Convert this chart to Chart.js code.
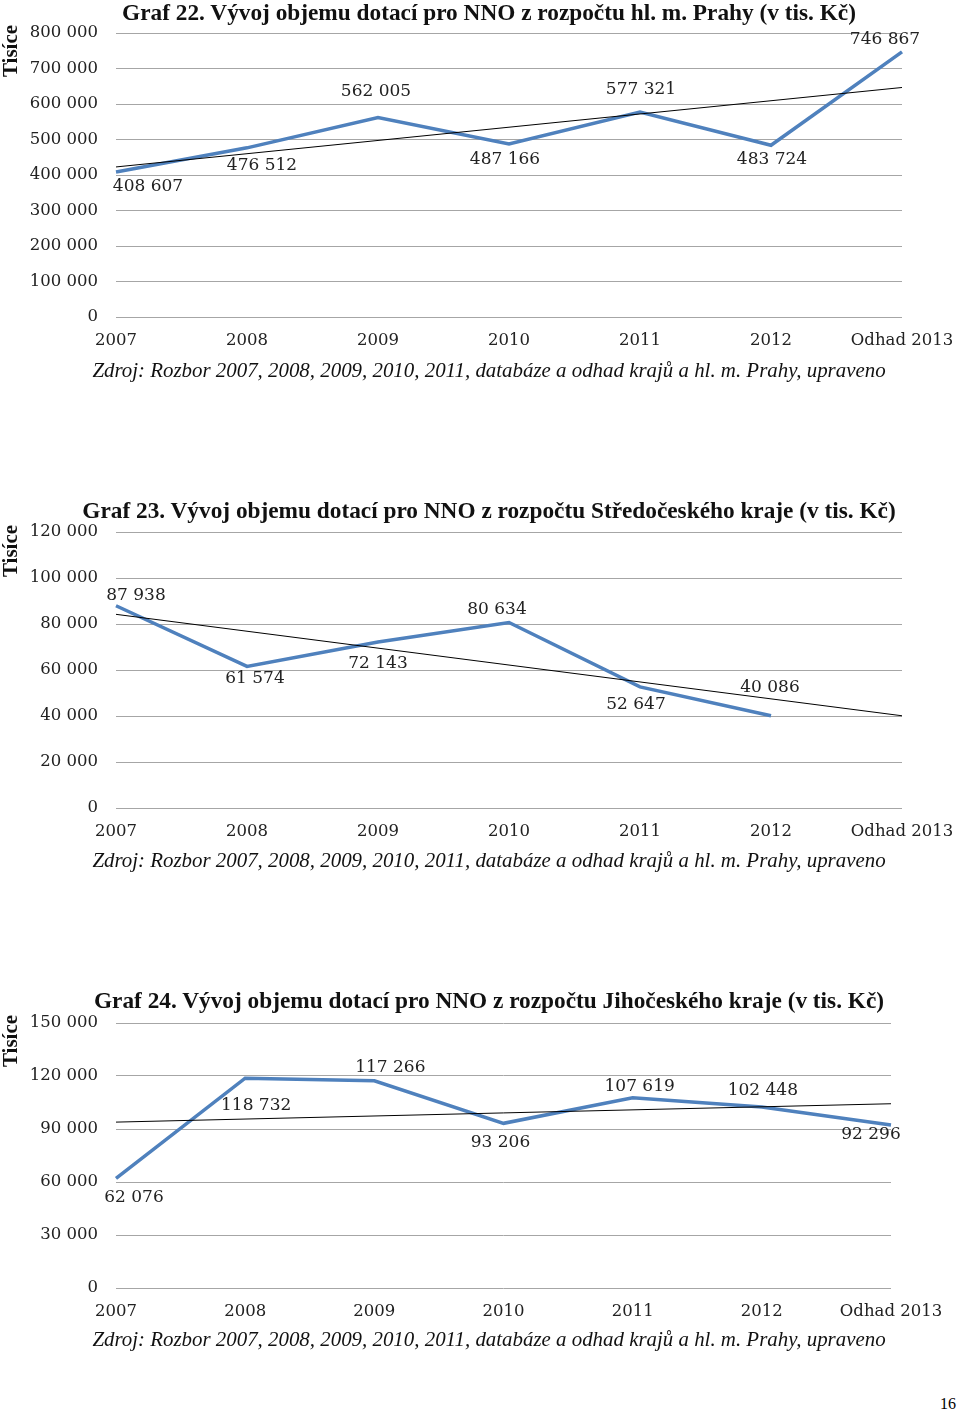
<!DOCTYPE html>
<html>
<head>
<meta charset="utf-8">
<script src="https://cdn.jsdelivr.net/npm/chart.js@4.4.0/dist/chart.umd.min.js"></script>
<style>
  body { margin: 0; background: #fff; width: 960px; height: 1412px; position: relative; overflow: hidden; }
  .box { position: absolute; left: 0; width: 960px; height: 360px; }
  .title { position: absolute; left: 489px; transform: translate(-50%, -50%); white-space: nowrap;
           font: bold 23.3px "Liberation Serif", serif; color: #111; }
  .source { position: absolute; left: 489px; transform: translate(-50%, -50%); white-space: nowrap;
            font: italic 20.9px "Liberation Serif", serif; color: #111; }
  .page { position: absolute; right: 4px; top: 1395px; font: 16px "Liberation Serif", serif; }
</style>
</head>
<body>

<div class="box" style="top:0"><canvas id="praha"></canvas></div>
<div class="box" style="top:490px"><canvas id="stredocesky"></canvas></div>
<div class="box" style="top:980px"><canvas id="jihocesky"></canvas></div>

<div class="title" style="top:12px">Graf 22. Vývoj objemu dotací pro NNO z rozpočtu hl. m. Prahy (v tis. Kč)</div>
<div class="title" style="top:510px">Graf 23. Vývoj objemu dotací pro NNO z rozpočtu Středočeského kraje (v tis. Kč)</div>
<div class="title" style="top:1000px">Graf 24. Vývoj objemu dotací pro NNO z rozpočtu Jihočeského kraje (v tis. Kč)</div>

<div class="source" style="top:370px">Zdroj: Rozbor 2007, 2008, 2009, 2010, 2011, databáze a odhad krajů a hl. m. Prahy, upraveno</div>
<div class="source" style="top:860px">Zdroj: Rozbor 2007, 2008, 2009, 2010, 2011, databáze a odhad krajů a hl. m. Prahy, upraveno</div>
<div class="source" style="top:1339px">Zdroj: Rozbor 2007, 2008, 2009, 2010, 2011, databáze a odhad krajů a hl. m. Prahy, upraveno</div>

<div class="page">16</div>

<script>
// categories (same for all three charts)
const years = ['2007', '2008', '2009', '2010', '2011', '2012', 'Odhad 2013'];

// Graf 22 - hl. m. Praha
const prahaValues = [408607, 476512, 562005, 487166, 577321, 483724, 746867];
const prahaTrend = [422700, null, null, null, null, null, 646500];

// Graf 23 - Středočeský kraj (no estimate for 2013)
const stredValues = [87938, 61574, 72143, 80634, 52647, 40086, null];
const stredTrend = [84200, null, null, null, null, null, 40100];

// Graf 24 - Jihočeský kraj
const jihValues = [62076, 118732, 117266, 93206, 107619, 102448, 92296];
const jihTrend = [93900, null, null, null, null, null, 104300];

// y axis ranges
const prahaAxis = [0, 800000, 100000];
const stredAxis = [0, 120000, 20000];
const jihAxis = [0, 150000, 30000];

// where each value label sits relative to its point (px)
const prahaLabelPos = [[32, 15], [15, 18], [-2, -26], [-4, 16], [1, -22], [1, 14], [-17, -12]];
const stredLabelPos = [[20, -10], [8, 12], [0, 22], [-12, -13], [-4, 18], [-1, -28]];
const jihLabelPos = [[18, 19], [11, 27], [16, -13], [-3, 19], [7, -11], [1, -16], [-20, 10]];

const serif = '"DejaVu Serif", serif';

function fmt(v) {
  return String(v).replace(/\B(?=(\d{3})+(?!\d))/g, ' ');
}

// value labels + rotated "Tisíce" caption
const labelsPlugin = {
  id: 'valueLabels',
  afterDatasetsDraw(chart, args, opts) {
    const ctx = chart.ctx;
    const meta = chart.getDatasetMeta(0);
    const values = chart.data.datasets[0].data;
    ctx.save();
    ctx.font = '17px ' + serif;
    ctx.fillStyle = '#222';
    ctx.textAlign = 'center';
    ctx.textBaseline = 'middle';
    meta.data.forEach((pt, i) => {
      if (values[i] == null) return;
      const off = opts.pos[i] || [0, 0];
      ctx.fillText(fmt(values[i]), pt.x + off[0], pt.y + off[1]);
    });
    ctx.translate(12, opts.captionY);
    ctx.rotate(-Math.PI / 2);
    ctx.font = 'bold 21px "Liberation Serif", serif';
    ctx.fillStyle = '#111';
    ctx.fillText('Tisíce', 0, 0);
    ctx.restore();
  }
};

function createChart(id, values, trend, axis, labelPos, pad, captionY) {
  new Chart(document.getElementById(id), {
    type: 'line',
    data: {
      labels: years,
      datasets: [{
        data: values,
        borderColor: '#4f81bd',
        borderWidth: 3.5,
        pointRadius: 0,
        tension: 0,
        order: 2
      }, {
        data: trend,
        borderColor: '#000',
        borderWidth: 1,
        pointRadius: 0,
        spanGaps: true,
        order: 1
      }]
    },
    options: {
      responsive: true,
      maintainAspectRatio: false,
      animation: false,
      layout: { padding: pad },
      scales: {
        x: {
          offset: false,
          grid: { display: false },
          border: { display: false },
          afterFit(scale) { scale.height = 40; },
          ticks: {
            autoSkip: false, maxRotation: 0, padding: 6,
            color: '#222', font: { family: serif, size: 16.5 }
          }
        },
        y: {
          min: axis[0],
          max: axis[1],
          grid: { color: '#a6a6a6', lineWidth: 1, drawTicks: false },
          border: { display: false },
          afterFit(scale) { scale.width = 116; },
          ticks: {
            stepSize: axis[2], padding: 18,
            color: '#222', font: { family: serif, size: 16.5 },
            callback: v => fmt(v)
          }
        }
      },
      plugins: {
        legend: { display: false },
        tooltip: { enabled: false },
        valueLabels: { pos: labelPos, captionY: captionY }
      }
    },
    plugins: [labelsPlugin]
  });
}

createChart('praha', prahaValues, prahaTrend, prahaAxis, prahaLabelPos,
  { left: 0, right: 58, top: 33, bottom: 3 }, 51);
createChart('stredocesky', stredValues, stredTrend, stredAxis, stredLabelPos,
  { left: 0, right: 58, top: 42, bottom: 2 }, 61);
createChart('jihocesky', jihValues, jihTrend, jihAxis, jihLabelPos,
  { left: 0, right: 69, top: 43, bottom: 12 }, 61);
</script>
</body>
</html>
